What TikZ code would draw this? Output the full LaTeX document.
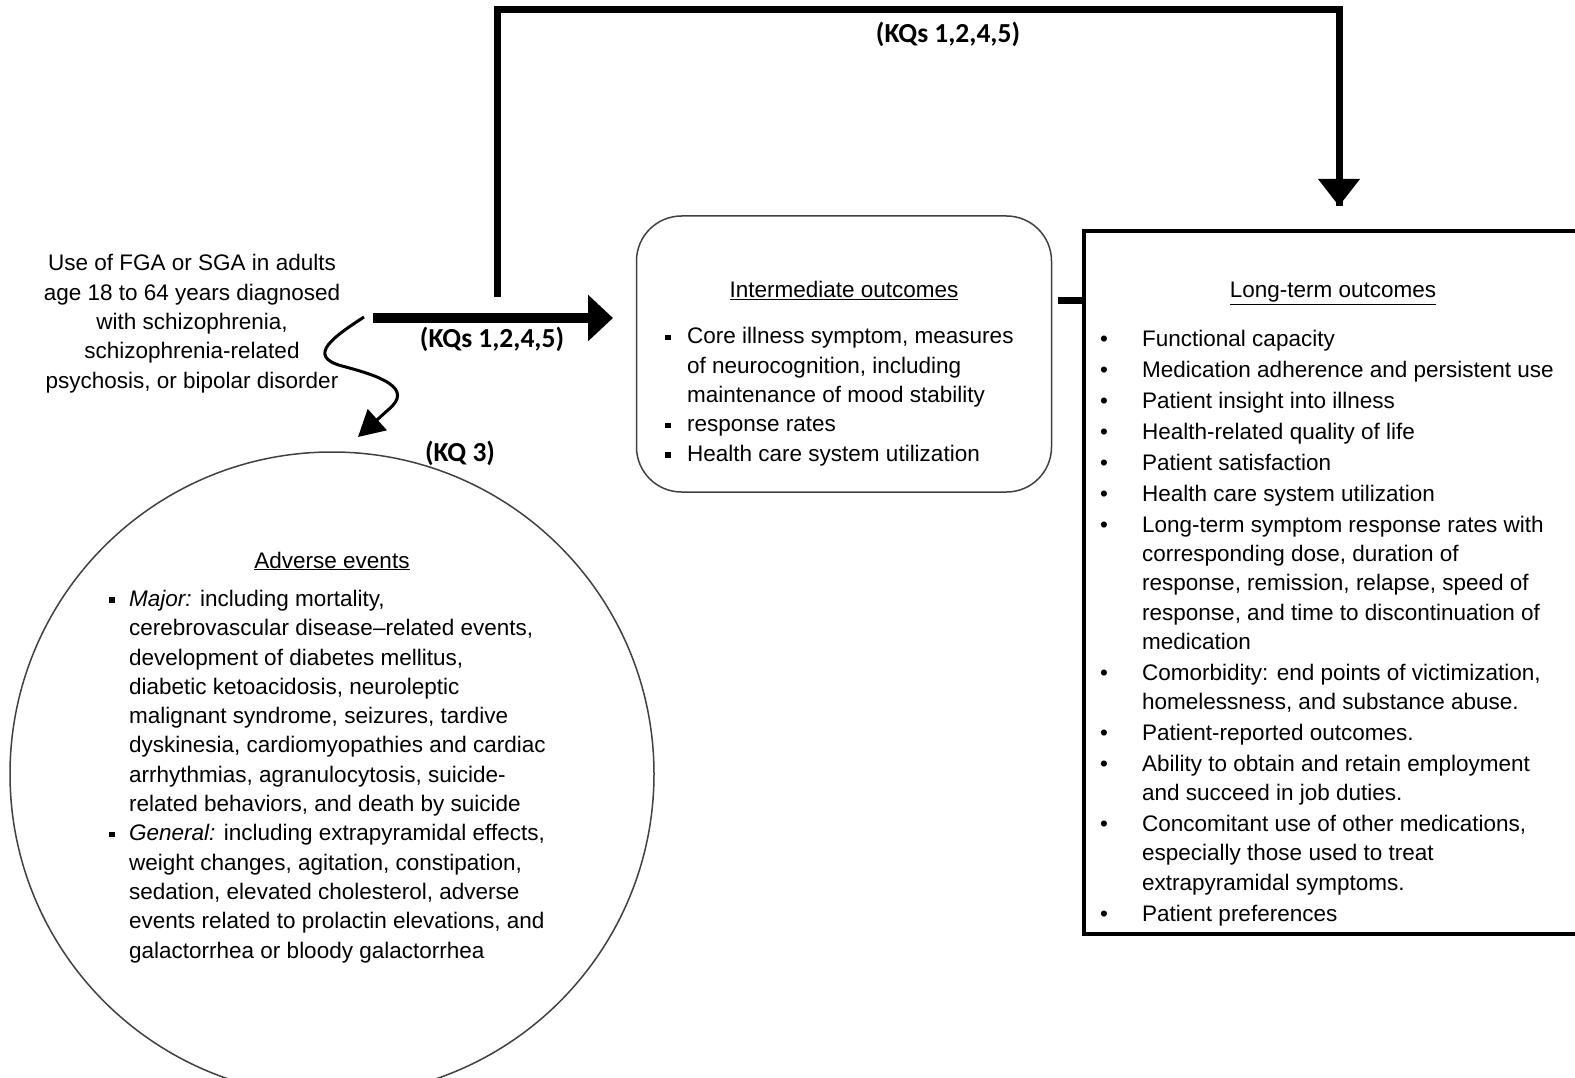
\documentclass[tikz,border=0pt]{standalone}
\usepackage{fontspec}
\setmainfont{Liberation Sans}
\newfontfamily\kqfont{Carlito}
\usetikzlibrary{arrows.meta}
\colorlet{boxgray}{black!75}
\newcommand{\bodysize}{\fontsize{22.5}{29.3}\selectfont}
\newcommand{\sqitem}[1]{\makebox[#1][l]{\raisebox{3.5pt}{\rule{5.5pt}{5.5pt}}}}
\newcommand{\dotitem}{\makebox[42pt][l]{\textbullet}}
\newcommand{\noitem}[1]{\hspace*{#1}}

\begin{document}
\begin{tikzpicture}[x=1pt,y=-1pt,
  body/.style={font=\bodysize, inner sep=0pt, align=left, anchor=base west},
  heading/.style={font=\bodysize, inner sep=0pt, anchor=base},
  kqlabel/.style={font=\kqfont\bfseries\fontsize{27.5}{30}\selectfont, inner sep=0pt, anchor=base},
  fatline/.style={line width=7pt},
  fatarrow/.style={line width=10pt, -{Triangle[length=25pt,width=45pt]}},
  squiggle/.style={line width=3pt, -{Triangle[length=26pt,width=28pt]}}]
  \useasboundingbox (0,0) rectangle (1575,1078);

  % ----- BOXES -----
  \node[draw=boxgray, line width=1.5pt, rounded corners=45pt,
        minimum width=415pt, minimum height=276pt] (inter) at (844,354) {};
  \node[draw, line width=4pt, minimum width=510pt, minimum height=703pt,
        anchor=north west] (lt) at (1082,229) {};
  \node[draw=boxgray, line width=1.5pt, circle, minimum size=644pt] (ae) at (332,774) {};

  % ----- POPULATION (base = last line) -----
  \node[font=\bodysize, inner sep=0pt, align=center, anchor=base] (pop) at (192,388)
    {Use of FGA or SGA in adults\\age 18 to 64 years diagnosed\\with schizophrenia,\\
     schizophrenia-related\\psychosis, or bipolar disorder};

  % ----- INTERMEDIATE OUTCOMES -----
  \node[heading] (intertitle) at (844,298) {\underline{Intermediate outcomes}};
  \node[body] (interlist) at (665,461)
    {\sqitem{22pt}Core illness symptom, measures\\
     \noitem{22pt}of neurocognition, including\\
     \noitem{22pt}maintenance of mood stability\\
     \sqitem{22pt}response rates\\
     \sqitem{22pt}Health care system utilization};

  % ----- LONG-TERM OUTCOMES -----
  \node[heading] (lttitle) at (1333,298) {\underline{Long-term outcomes}};
  \node[body] (ltlist) at (1100,921)
    {\dotitem Functional capacity\\[1.6pt]
     \dotitem Medication adherence and persistent use\\[1.6pt]
     \dotitem Patient insight into illness\\[1.6pt]
     \dotitem Health-related quality of life\\[1.6pt]
     \dotitem Patient satisfaction\\[1.6pt]
     \dotitem Health care system utilization\\[1.6pt]
     \dotitem Long-term symptom response rates with\\
     \noitem{42pt}corresponding dose, duration of\\
     \noitem{42pt}response, remission, relapse, speed of\\
     \noitem{42pt}response, and time to discontinuation of\\
     \noitem{42pt}medication\\[1.6pt]
     \dotitem Comorbidity: end points of victimization,\\
     \noitem{42pt}homelessness, and substance abuse.\\[1.6pt]
     \dotitem Patient-reported outcomes.\\[1.6pt]
     \dotitem Ability to obtain and retain employment\\
     \noitem{42pt}and succeed in job duties.\\[1.6pt]
     \dotitem Concomitant use of other medications,\\
     \noitem{42pt}especially those used to treat\\
     \noitem{42pt}extrapyramidal symptoms.\\[1.6pt]
     \dotitem Patient preferences};

  % ----- ADVERSE EVENTS -----
  \node[heading] (aetitle) at (332,568) {\underline{Adverse events}};
  \node[body] (aelist) at (109,958)
    {\sqitem{20pt}\textit{Major:} including mortality,\\
     \noitem{20pt}cerebrovascular disease--related events,\\
     \noitem{20pt}development of diabetes mellitus,\\
     \noitem{20pt}diabetic ketoacidosis, neuroleptic\\
     \noitem{20pt}malignant syndrome, seizures, tardive\\
     \noitem{20pt}dyskinesia, cardiomyopathies and cardiac\\
     \noitem{20pt}arrhythmias, agranulocytosis, suicide-\\
     \noitem{20pt}related behaviors, and death by suicide\\
     \sqitem{20pt}\textit{General:} including extrapyramidal effects,\\
     \noitem{20pt}weight changes, agitation, constipation,\\
     \noitem{20pt}sedation, elevated cholesterol, adverse\\
     \noitem{20pt}events related to prolactin elevations, and\\
     \noitem{20pt}galactorrhea or bloody galactorrhea};

  % ----- CONNECTORS -----
  \coordinate (mainstart) at (373,318);
  \coordinate (mainend) at (613,318);
  \coordinate (topstart) at (497,297);
  \coordinate (topend) at (1339,206);
  \coordinate (stubstart) at (1058,300);
  \coordinate (sqstart) at (364,317);
  \coordinate (sqend) at (358,437);

  \draw[fatarrow] (mainstart) -- (mainend);
  \draw[fatline] (topstart) -- ++(0,-287) -| (topend);
  \fill (topend) -- ++(-21,-27) -- ++(42,0) -- cycle;
  \draw[fatline] (stubstart) -- (lt.west |- stubstart);
  \draw[squiggle] (sqstart) .. controls (335,336) and (305,356) .. (342,366)
    .. controls (380,376) and (415,388) .. (388,410) -- (sqend);

  % ----- KQ LABELS -----
  \node[kqlabel] (kqtop) at (948,43) {(KQs 1,2,4,5)};
  \node[kqlabel] (kqmain) at (492,347) {(KQs 1,2,4,5)};
  \node[kqlabel] (kqae) at (460,461) {(KQ 3)};
\end{tikzpicture}
\end{document}
